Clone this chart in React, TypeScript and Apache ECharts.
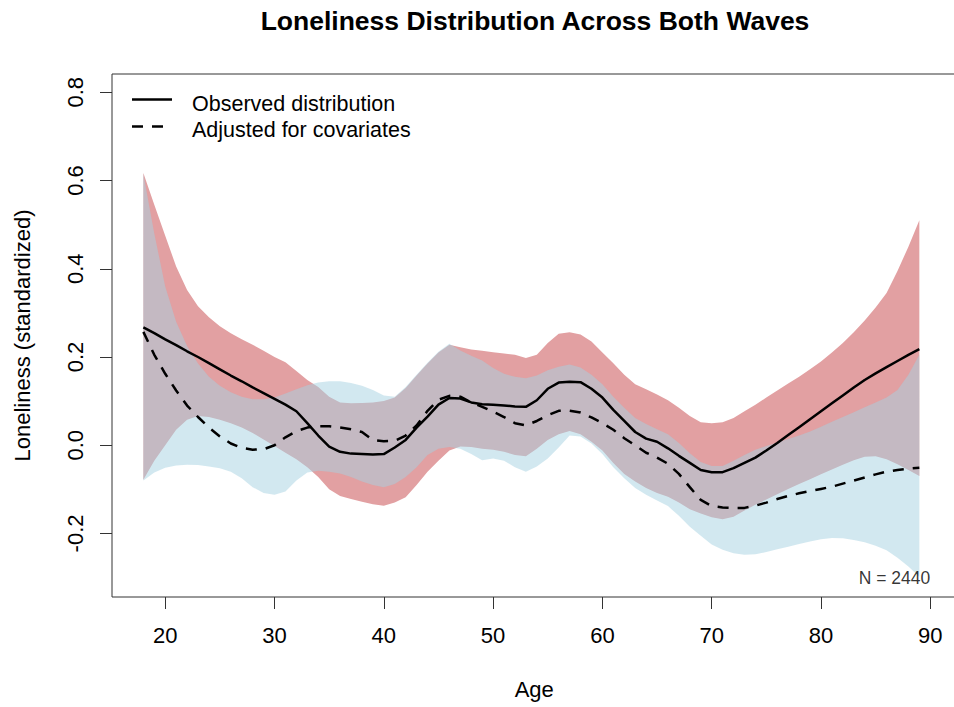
import React, { useEffect, useRef } from 'react';
import * as echarts from 'echarts';

const FONT = '"Liberation Sans", Arial, Helvetica, sans-serif';

const ages = [
  18, 19, 20, 21, 22, 23, 24, 25, 26, 27, 28, 29, 30, 31, 32, 33, 34, 35,
  36, 37, 38, 39, 40, 41, 42, 43, 44, 45, 46, 47, 48, 49, 50, 51, 52, 53,
  54, 55, 56, 57, 58, 59, 60, 61, 62, 63, 64, 65, 66, 67, 68, 69, 70, 71,
  72, 73, 74, 75, 76, 77, 78, 79, 80, 81, 82, 83, 84, 85, 86, 87, 88, 89,
];

const observed = [
  0.267, 0.254, 0.24, 0.227, 0.213, 0.2, 0.186, 0.172, 0.158, 0.145, 0.131, 0.118, 0.105, 0.092, 0.077, 0.05, 0.022, -0.003,
  -0.015, -0.019, -0.02, -0.021, -0.02, -0.005, 0.012, 0.04, 0.065, 0.092, 0.107, 0.106, 0.097, 0.093, 0.092, 0.09, 0.088, 0.087,
  0.102, 0.128, 0.142, 0.144, 0.143, 0.128, 0.108, 0.08, 0.055, 0.03, 0.015, 0.008, -0.007, -0.024, -0.04, -0.056, -0.061, -0.061,
  -0.052, -0.04, -0.028, -0.012, 0.005, 0.023, 0.041, 0.059, 0.077, 0.095, 0.113, 0.131, 0.148, 0.163, 0.177, 0.191, 0.205, 0.218,
];

const adjusted = [
  0.257, 0.205, 0.162, 0.124, 0.09, 0.064, 0.04, 0.02, 0.004, -0.006, -0.01, -0.009, 0.0, 0.018, 0.032, 0.04, 0.043, 0.043,
  0.04, 0.036, 0.03, 0.012, 0.009, 0.01, 0.022, 0.045, 0.078, 0.103, 0.112, 0.11, 0.097, 0.087, 0.076, 0.064, 0.05, 0.045,
  0.055, 0.068, 0.078, 0.078, 0.074, 0.063, 0.05, 0.035, 0.016, 0.0, -0.017, -0.028, -0.042, -0.065, -0.095, -0.124, -0.138, -0.141,
  -0.142, -0.142, -0.137, -0.13, -0.122, -0.115, -0.109, -0.104, -0.099, -0.094, -0.087, -0.08, -0.073, -0.066, -0.06, -0.056, -0.053, -0.051,
];

const observedUpper = [
  0.617, 0.545, 0.475, 0.405, 0.352, 0.315, 0.29, 0.27, 0.254, 0.24, 0.228, 0.214, 0.2, 0.188, 0.168, 0.148, 0.132, 0.11,
  0.097, 0.095, 0.096, 0.097, 0.1, 0.108, 0.13, 0.158, 0.185, 0.21, 0.228, 0.222, 0.217, 0.214, 0.211, 0.208, 0.205, 0.198,
  0.205, 0.232, 0.253, 0.256, 0.251, 0.235, 0.21, 0.186, 0.16, 0.138, 0.127, 0.115, 0.102, 0.085, 0.066, 0.052, 0.05, 0.052,
  0.062, 0.077, 0.092, 0.108, 0.124, 0.14, 0.155, 0.172, 0.19, 0.21, 0.232, 0.256, 0.283, 0.312, 0.345, 0.395, 0.45, 0.51,
];

const observedLower = [
  -0.078, -0.035, 0.0, 0.035, 0.058, 0.066, 0.064, 0.058, 0.05, 0.04, 0.028, 0.013, -0.002, -0.017, -0.032, -0.05, -0.072, -0.1,
  -0.115, -0.122, -0.128, -0.134, -0.137, -0.13, -0.118, -0.09, -0.06, -0.035, -0.012, -0.003, -0.004, -0.008, -0.01, -0.015, -0.022, -0.025,
  -0.008, 0.012, 0.025, 0.032, 0.025, 0.008, -0.012, -0.04, -0.065, -0.082, -0.097, -0.108, -0.117, -0.13, -0.145, -0.155, -0.163, -0.168,
  -0.162, -0.148, -0.135, -0.123, -0.111, -0.099, -0.088, -0.077, -0.066, -0.055, -0.044, -0.034, -0.026, -0.025, -0.032, -0.043, -0.056, -0.07,
];

const adjustedUpper = [
  0.615, 0.48, 0.36, 0.28, 0.225, 0.185, 0.155, 0.135, 0.12, 0.11, 0.104, 0.104, 0.108, 0.117, 0.127, 0.136, 0.142, 0.145,
  0.145, 0.141, 0.135, 0.125, 0.113, 0.11, 0.132, 0.16, 0.187, 0.212, 0.23, 0.215, 0.203, 0.192, 0.175, 0.162, 0.155, 0.152,
  0.158, 0.17, 0.178, 0.183, 0.176, 0.16, 0.138, 0.11, 0.085, 0.062, 0.048, 0.036, 0.025, 0.005, -0.018, -0.038, -0.047, -0.047,
  -0.035, -0.022, -0.01, -0.002, 0.006, 0.014, 0.022, 0.031, 0.042, 0.053, 0.064, 0.075, 0.086, 0.097, 0.108, 0.125, 0.16, 0.205,
];

const adjustedLower = [
  -0.08, -0.062, -0.051, -0.046, -0.044, -0.045, -0.048, -0.052, -0.06, -0.075, -0.095, -0.108, -0.112, -0.105, -0.08, -0.062, -0.058, -0.06,
  -0.064, -0.072, -0.082, -0.09, -0.095, -0.088, -0.072, -0.05, -0.022, -0.008, -0.004, -0.008, -0.02, -0.034, -0.03, -0.035, -0.05, -0.06,
  -0.048, -0.03, -0.005, 0.022, 0.02, 0.004, -0.02, -0.05, -0.075, -0.097, -0.112, -0.125, -0.138, -0.16, -0.185, -0.205, -0.225, -0.237,
  -0.245, -0.248, -0.247, -0.242, -0.236, -0.23, -0.224, -0.218, -0.213, -0.21, -0.211, -0.215, -0.22, -0.228, -0.238, -0.255, -0.275, -0.298,
];

const xTicks = [20, 30, 40, 50, 60, 70, 80, 90];
const yTicks = [-0.2, 0.0, 0.2, 0.4, 0.6, 0.8];

const sampleNote = 'N = 2440';
const sampleNotePos = [90, -0.3];

const TITLE = 'Loneliness Distribution Across Both Waves';
const X_NAME = 'Age';
const Y_NAME = 'Loneliness (standardized)';
const OBS_NAME = 'Observed distribution';
const ADJ_NAME = 'Adjusted for covariates';

const DASH = [11, 9];

function bandSeries(name: string, upper: number[], lower: number[], fill: string, z: number) {
  return {
    type: 'custom',
    name,
    silent: true,
    z,
    data: ages.map((a, i) => [a, lower[i], upper[i]]),
    encode: { x: 0, y: [1, 2] },
    renderItem: (params: any, api: any) => {
      if (params.dataIndex !== 0) return null;
      const pts: number[][] = [];
      for (let i = 0; i < ages.length; i++) pts.push(api.coord([ages[i], upper[i]]));
      for (let i = ages.length - 1; i >= 0; i--) pts.push(api.coord([ages[i], lower[i]]));
      return { type: 'polygon', shape: { points: pts }, style: { fill, stroke: 'none' } };
    },
  };
}

export default function App() {
  const ref = useRef<HTMLDivElement>(null);

  useEffect(() => {
    if (!ref.current) return;
    const chart = echarts.init(ref.current, undefined, { renderer: 'svg' });

    const pair = (vals: number[]) => ages.map((a, i) => [a, vals[i]]);

    const option: any = {
      animation: false,
      backgroundColor: '#ffffff',
      textStyle: { fontFamily: FONT },
      title: {
        text: TITLE,
        left: 530,
        top: 2,
        textAlign: 'center',
        textStyle: { fontFamily: FONT, fontSize: 26.5, fontWeight: 'bold', color: '#000' },
      },
      graphic: [
        {
          type: 'line',
          shape: { x1: 132, y1: 99.5, x2: 172, y2: 99.5 },
          style: { stroke: '#000', lineWidth: 2.5 },
        },
        {
          type: 'line',
          shape: { x1: 132, y1: 126.5, x2: 172, y2: 126.5 },
          style: { stroke: '#000', lineWidth: 2.5, lineDash: DASH },
        },
        {
          type: 'text',
          x: 192,
          y: 103.5,
          style: { text: OBS_NAME, fontFamily: FONT, fontSize: 21.5, fill: '#000', verticalAlign: 'middle' },
        },
        {
          type: 'text',
          x: 192,
          y: 129.5,
          style: { text: ADJ_NAME, fontFamily: FONT, fontSize: 21.5, fill: '#000', verticalAlign: 'middle' },
        },
      ],
      grid: {
        left: 112,
        top: 74,
        width: 844.5,
        height: 523,
        show: true,
        borderColor: '#333',
        borderWidth: 1,
        backgroundColor: 'transparent',
        containLabel: false,
        outerBoundsMode: 'none',
      },
      xAxis: {
        type: 'value',
        min: 15.13,
        max: 92.4,
        name: X_NAME,
        nameLocation: 'middle',
        nameGap: 81,
        nameTextStyle: { fontFamily: FONT, fontSize: 22, color: '#000' },
        axisLine: { show: false, onZero: false },
        splitLine: { show: false },
        axisTick: {
          show: true,
          inside: false,
          length: 12,
          customValues: xTicks,
          lineStyle: { color: '#333', width: 1 },
        },
        axisLabel: {
          show: true,
          margin: 27,
          customValues: xTicks,
          fontFamily: FONT,
          fontSize: 22,
          color: '#000',
          formatter: (v: number) => String(v),
        },
      },
      yAxis: {
        type: 'value',
        min: -0.344,
        max: 0.8415,
        name: Y_NAME,
        nameLocation: 'middle',
        nameGap: 79,
        nameTextStyle: { fontFamily: FONT, fontSize: 22, color: '#000' },
        axisLine: { show: false, onZero: false },
        splitLine: { show: false },
        axisTick: {
          show: true,
          inside: false,
          length: 12,
          customValues: yTicks,
          lineStyle: { color: '#333', width: 1 },
        },
        axisLabel: {
          show: true,
          rotate: 90,
          margin: 26,
          customValues: yTicks,
          fontFamily: FONT,
          fontSize: 22,
          color: '#000',
          formatter: (v: number) => v.toFixed(1),
        },
      },
      series: [
        bandSeries('Observed CI', observedUpper, observedLower, '#e2a0a2', 1),
        bandSeries('Adjusted CI', adjustedUpper, adjustedLower, 'rgba(165,209,225,0.5)', 2),
        {
          type: 'line',
          name: OBS_NAME,
          data: pair(observed),
          symbol: 'none',
          smooth: false,
          lineStyle: { color: '#000', width: 2.5, type: 'solid' },
          itemStyle: { color: '#000' },
          z: 5,
        },
        {
          type: 'line',
          name: ADJ_NAME,
          data: pair(adjusted),
          symbol: 'none',
          smooth: false,
          lineStyle: { color: '#000', width: 2.5, type: DASH },
          itemStyle: { color: '#000' },
          z: 5,
        },
        {
          type: 'scatter',
          name: 'note',
          data: [sampleNotePos],
          symbolSize: 0,
          silent: true,
          z: 6,
          label: {
            show: true,
            position: 'inside',
            align: 'right',
            verticalAlign: 'middle',
            formatter: sampleNote,
            fontFamily: FONT,
            fontSize: 17.5,
            color: '#000',
          },
        },
      ],
    };

    chart.setOption(option);
    return () => chart.dispose();
  }, []);

  return (
    <div
      ref={ref}
      style={{ position: 'absolute', left: 0, top: 0, width: 954, height: 707, background: '#fff' }}
    />
  );
}
